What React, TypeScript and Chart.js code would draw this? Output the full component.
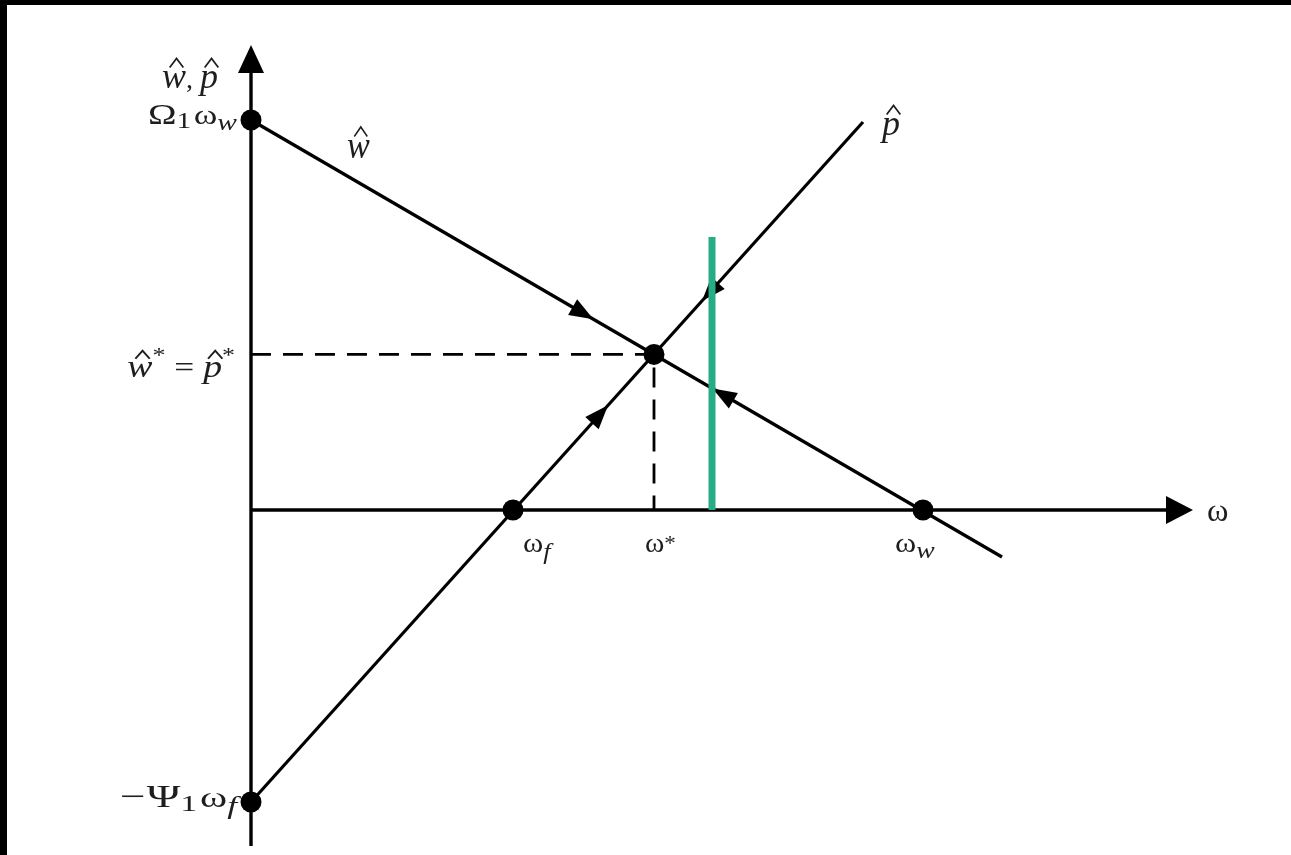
import { useEffect, useRef } from "react";
import { Chart, registerables } from "chart.js";

Chart.register(...registerables);

// Axis extents: ω along the horizontal axis, ŵ / p̂ along the vertical axis
const xAxisEnd = 9.42;
const yAxisTop = 4.65;
const yAxisBottom = -3.36;

// ŵ schedule (falls from Ω1ωw to below the axis past ωw)
const wLineX = [0, 7.51];
const wLineY = [3.9, -0.47];

// p̂ schedule (rises from −Ψ1ωf through ωf)
const pLineX = [0, 6.12];
const pLineY = [-2.92, 3.88];

// Axis crossings and equilibrium
const omegaF = 2.62;
const omegaW = 6.72;
const omegaStar = 4.03;
const eqValue = 1.556;

// Flow arrows along each schedule: position on ω and direction of travel
const wArrowX = [3.32, 4.72];
const wArrowDir = [1, -1];
const pArrowX = [3.49, 4.59];
const pArrowDir = [1, -1];

// Vertical marker line
const markerX = [4.61, 4.61];
const markerY = [0, 2.73];

const SERIF = "'Liberation Serif', 'Times New Roman', serif";
const INK = "#000";
const TEXT = "#1e1e1e";

type Part = {
  t: string;
  size: number;
  italic?: boolean;
  dy?: number;
  hat?: boolean;
  gap?: number;
};

function lineAt(xs: number[], ys: number[], x: number) {
  const t = (x - xs[0]) / (xs[1] - xs[0]);
  return ys[0] + t * (ys[1] - ys[0]);
}

function triangle(
  ctx: CanvasRenderingContext2D,
  tipX: number,
  tipY: number,
  ux: number,
  uy: number,
  len: number,
  half: number
) {
  const bx = tipX - ux * len;
  const by = tipY - uy * len;
  const nx = -uy;
  const ny = ux;
  ctx.beginPath();
  ctx.moveTo(tipX, tipY);
  ctx.lineTo(bx + nx * half, by + ny * half);
  ctx.lineTo(bx - nx * half, by - ny * half);
  ctx.closePath();
  ctx.fill();
}

function fontOf(p: Part) {
  return `${p.italic ? "italic " : ""}${p.size}px ${SERIF}`;
}

// Lays out a run of math-style text pieces (subscripts, stars, hats) on one baseline.
function drawParts(
  ctx: CanvasRenderingContext2D,
  parts: Part[],
  x: number,
  y: number,
  align: "left" | "right",
  sx = 1
) {
  ctx.save();
  ctx.textBaseline = "alphabetic";
  ctx.textAlign = "left";
  let total = 0;
  const widths = parts.map((p) => {
    ctx.font = fontOf(p);
    const w = ctx.measureText(p.t).width;
    total += w + (p.gap || 0);
    return w;
  });
  const start = align === "right" ? x - total * sx : x;
  ctx.translate(start, y);
  ctx.scale(sx, 1);
  let cx = 0;
  parts.forEach((p, i) => {
    cx += p.gap || 0;
    ctx.font = fontOf(p);
    ctx.fillStyle = TEXT;
    const by = p.dy || 0;
    ctx.fillText(p.t, cx, by);
    if (p.hat) {
      const mid = cx + widths[i] / 2 + (p.italic ? p.size * 0.07 : 0);
      const bottom = by - p.size * 0.46 - 4;
      const h = p.size * 0.25;
      const hw = p.size * 0.19;
      ctx.strokeStyle = TEXT;
      ctx.lineWidth = 1.7;
      ctx.beginPath();
      ctx.moveTo(mid - hw, bottom);
      ctx.lineTo(mid, bottom - h);
      ctx.lineTo(mid + hw, bottom);
      ctx.stroke();
    }
    cx += widths[i];
  });
  ctx.restore();
}

const diagramPlugin = {
  id: "diagram",
  beforeDatasetsDraw(chart: any) {
    const ctx: CanvasRenderingContext2D = chart.ctx;
    const sx = chart.scales.x;
    const sy = chart.scales.y;
    const px = (v: number) => sx.getPixelForValue(v);
    const py = (v: number) => sy.getPixelForValue(v);
    ctx.save();
    ctx.fillStyle = INK;

    // axis arrowheads
    triangle(ctx, px(0), py(yAxisTop), 0, -1, 28, 13);
    triangle(ctx, px(xAxisEnd), py(0), 1, 0, 27, 14);

    // flow arrows along both schedules
    const flow = (xs: number[], ys: number[], at: number[], dirs: number[]) => {
      const dx = px(xs[1]) - px(xs[0]);
      const dy = py(ys[1]) - py(ys[0]);
      const L = Math.hypot(dx, dy);
      at.forEach((a, i) => {
        const ux = (dx / L) * dirs[i];
        const uy = (dy / L) * dirs[i];
        const cx = px(a);
        const cy = py(lineAt(xs, ys, a));
        triangle(ctx, cx + ux * 12, cy + uy * 12, ux, uy, 24, 9);
      });
    };
    flow(wLineX, wLineY, wArrowX, wArrowDir);
    flow(pLineX, pLineY, pArrowX, pArrowDir);
    ctx.restore();
  },
  afterDatasetsDraw(chart: any) {
    const ctx: CanvasRenderingContext2D = chart.ctx;
    const sx = chart.scales.x;
    const sy = chart.scales.y;
    const px = (v: number) => sx.getPixelForValue(v);
    const py = (v: number) => sy.getPixelForValue(v);

    // vertical axis title
    drawParts(
      ctx,
      [
        { t: "w", size: 36, italic: true, hat: true },
        { t: ", ", size: 28 },
        { t: "p", size: 36, italic: true, hat: true },
      ],
      px(0) - 33,
      py(yAxisTop) + 43,
      "right"
    );
    // intercept labels on the vertical axis
    drawParts(
      ctx,
      [
        { t: "Ω", size: 30 },
        { t: "1", size: 23, dy: 4 },
        { t: "ω", size: 28, gap: 2 },
        { t: "w", size: 23, italic: true, dy: 6 },
      ],
      px(0) - 14,
      py(wLineY[0]) + 4,
      "right",
      1.28
    );
    drawParts(
      ctx,
      [
        { t: "−", size: 32 },
        { t: "Ψ", size: 32, gap: 1 },
        { t: "1", size: 24, dy: 4 },
        { t: "ω", size: 29, gap: 2 },
        { t: "f", size: 25, italic: true, dy: 7 },
      ],
      px(0) - 14,
      py(pLineY[0]) + 5,
      "right",
      1.42
    );
    // schedule names
    drawParts(ctx, [{ t: "w", size: 38, italic: true, hat: true }], px(0) + 96, py(wLineY[0]) + 38, "left", 0.9);
    drawParts(ctx, [{ t: "p", size: 36, italic: true, hat: true }], px(pLineX[1]) + 19, py(pLineY[1]) + 13, "left");
    // equilibrium value
    drawParts(
      ctx,
      [
        { t: "w", size: 32, italic: true, hat: true },
        { t: "*", size: 22, dy: -15 },
        { t: " = ", size: 30 },
        { t: "p", size: 32, italic: true, hat: true },
        { t: "*", size: 22, dy: -15 },
      ],
      px(0) - 16,
      py(eqValue) + 23,
      "right",
      1.18
    );
    // horizontal axis labels
    drawParts(
      ctx,
      [
        { t: "ω", size: 28 },
        { t: "f", size: 24, italic: true, dy: 7 },
      ],
      px(omegaF) + 10,
      py(0) + 42,
      "left",
      1.1
    );
    drawParts(
      ctx,
      [
        { t: "ω", size: 28 },
        { t: "*", size: 22, dy: -2 },
      ],
      px(omegaStar) - 9,
      py(0) + 42,
      "left",
      1.05
    );
    drawParts(
      ctx,
      [
        { t: "ω", size: 28 },
        { t: "w", size: 24, italic: true, dy: 6 },
      ],
      px(omegaW) - 28,
      py(0) + 42,
      "left",
      1.15
    );
    drawParts(ctx, [{ t: "ω", size: 31 }], px(xAxisEnd) + 14, py(0) + 11, "left", 1.05);
  },
};

export default function App() {
  const canvasRef = useRef<HTMLCanvasElement | null>(null);

  useEffect(() => {
    if (!canvasRef.current) return;
    const pts = (xs: number[], ys: number[]) => xs.map((x, i) => ({ x, y: ys[i] }));
    const line = (data: any[], extra: any = {}) => ({
      data,
      showLine: true,
      borderColor: INK,
      backgroundColor: INK,
      borderWidth: 3.2,
      pointRadius: 0,
      ...extra,
    });

    const chart = new Chart(canvasRef.current, {
      type: "scatter",
      data: {
        datasets: [
          // marker line sits on top of everything else
          line(pts(markerX, markerY), { borderColor: "#27ad86", borderWidth: 7 }),
          {
            data: [
              { x: 0, y: wLineY[0] },
              { x: 0, y: pLineY[0] },
              { x: omegaF, y: 0 },
              { x: omegaW, y: 0 },
              { x: omegaStar, y: eqValue },
            ],
            pointRadius: 10.5,
            pointBackgroundColor: INK,
            pointBorderWidth: 0,
            showLine: false,
          },
          line(pts(wLineX, wLineY)),
          line(pts(pLineX, pLineY)),
          line(
            [
              { x: 0, y: eqValue },
              { x: omegaStar, y: eqValue },
              { x: omegaStar, y: 0 },
            ],
            { borderDash: [20, 12], borderWidth: 2.8 }
          ),
          line([
            { x: 0, y: 0 },
            { x: xAxisEnd - 0.1, y: 0 },
          ], { borderWidth: 3.4 }),
          line([
            { x: 0, y: yAxisBottom },
            { x: 0, y: yAxisTop - 0.1 },
          ], { borderWidth: 3.4 }),
        ],
      },
      options: {
        animation: false,
        responsive: false,
        devicePixelRatio: 1,
        layout: { padding: 0, autoPadding: false },
        plugins: { legend: { display: false }, tooltip: { enabled: false } },
        events: [],
        scales: {
          x: { type: "linear", min: -2.44, max: 10.4, display: false },
          y: { type: "linear", min: -3.45, max: 5.05, display: false },
        },
      },
      plugins: [diagramPlugin],
    });
    return () => chart.destroy();
  }, []);

  return (
    <div
      style={{
        position: "fixed",
        left: 0,
        top: 0,
        width: 1291,
        height: 855,
        background: "#000",
        boxSizing: "border-box",
        paddingLeft: 7,
        paddingTop: 5,
      }}
    >
      <canvas
        ref={canvasRef}
        width={1284}
        height={850}
        style={{ display: "block", width: 1284, height: 850, background: "#fff" }}
      />
    </div>
  );
}
